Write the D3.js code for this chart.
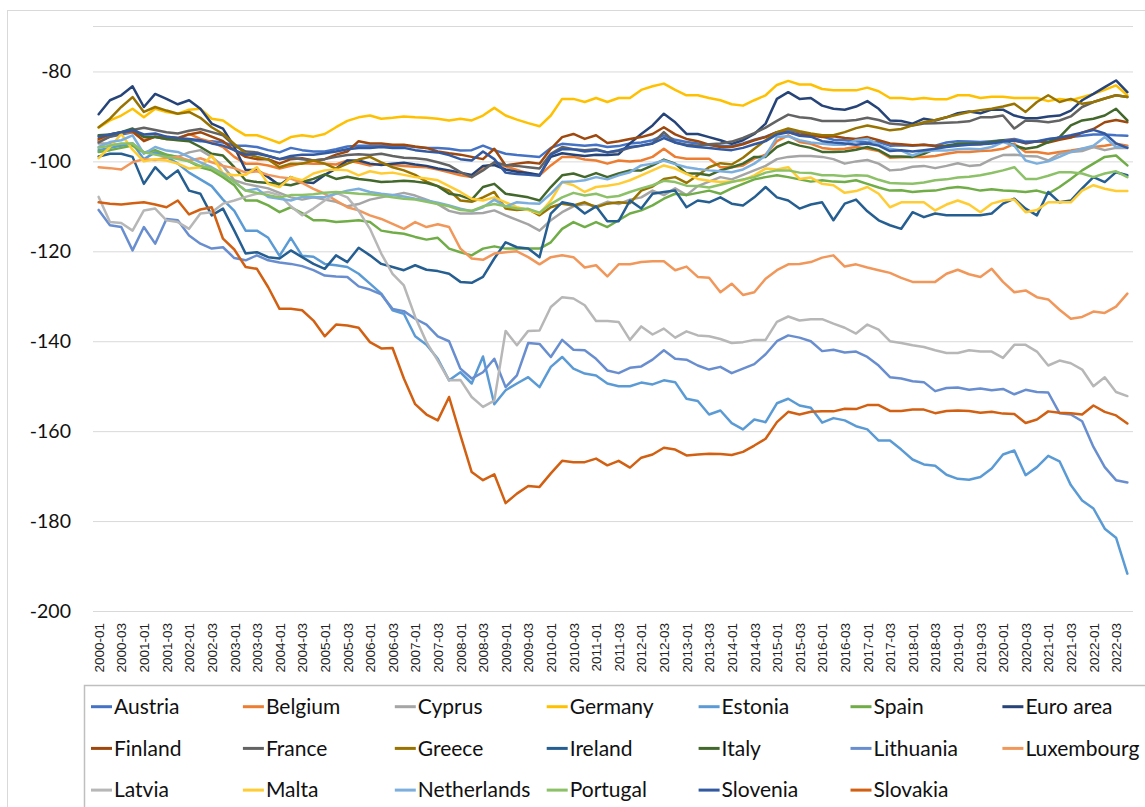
<!DOCTYPE html>
<html><head><meta charset="utf-8">
<script src="https://cdn.jsdelivr.net/npm/d3@7"></script>
<style>body{margin:0;background:#fff;} svg{display:block;}</style>
</head><body><svg id="c" width="1145" height="807"></svg>
<script>
// ---------- categories & tick labels ----------
const years = ["2000","2001","2002","2003","2004","2005","2006","2007","2008","2009","2010","2011","2012","2013","2014","2015","2016","2017","2018","2019","2020","2021","2022"];
const quarters = ["01","02","03","04"];
const categories = [];
years.forEach(yy => quarters.forEach(q => categories.push(yy + "-" + q)));

const tickLabels = ["2000-01","2000-03","2001-01","2001-03","2002-01","2002-03","2003-01","2003-03","2004-01","2004-03","2005-01","2005-03","2006-01","2006-03","2007-01","2007-03","2008-01","2008-03","2009-01","2009-03","2010-01","2010-03","2011-01","2011-03","2012-01","2012-03","2013-01","2013-03","2014-01","2014-03","2015-01","2015-03","2016-01","2016-03","2017-01","2017-03","2018-01","2018-03","2019-01","2019-03","2020-01","2020-03","2021-01","2021-03","2022-01","2022-03"];
const yTickValues = [-200,-180,-160,-140,-120,-100,-80];

// ---------- series ----------
const seriesNames = ["Austria","Belgium","Cyprus","Germany","Estonia","Spain","Euro area","Finland","France","Greece","Ireland","Italy","Lithuania","Luxembourg","Latvia","Malta","Netherlands","Portugal","Slovenia","Slovakia"];
const seriesColors = ["#4472C4","#ED7D31","#A5A5A5","#FFC000","#5B9BD5","#70AD47","#264478","#9E480E","#636363","#997300","#255E91","#43682B","#698ED0","#F1975A","#B7B7B7","#FFCD33","#7CAFDD","#8CC168","#335AA1","#D26012"];

const austria = [-95.5,-94.5,-94,-93.5,-94.5,-94.5,-95,-95,-95.2,-95.5,-95.5,-95.8,-96.5,-96.5,-96.8,-97.5,-98,-97,-97.5,-97.8,-97.8,-97.3,-96.7,-96.5,-96.5,-96.5,-96.7,-96.5,-96.8,-97,-97,-97.2,-97.6,-97.5,-96.5,-97.5,-98.3,-98.6,-98.8,-99,-97,-96.1,-96.3,-96.5,-96.3,-96.8,-96.6,-96,-95.8,-95.3,-94.2,-95.2,-95.7,-96,-96.3,-96.5,-96.6,-96,-95.2,-94.5,-93.5,-93,-93.5,-94,-94.5,-95.2,-95.3,-95.5,-95.8,-95.7,-96.5,-96.4,-96.5,-96.3,-96.5,-95.8,-95.5,-95.6,-95.7,-95.5,-95.3,-95,-95.6,-95.5,-95,-94.8,-94.6,-94.3,-94,-94,-94.2,-94.3];
const belgium = [-95.3,-94.2,-93.5,-93.5,-95.3,-94.5,-95,-95,-93.9,-95,-95.7,-96.8,-99,-100.5,-100.5,-100.9,-101.6,-101,-100.4,-100.5,-100.5,-100.7,-99.8,-100.3,-100.9,-100.5,-100.8,-101,-101.2,-101.3,-101.8,-102.4,-103.1,-103.5,-101.3,-100.5,-101.1,-101.9,-102.7,-103.1,-100.9,-99,-99,-99.6,-99.8,-100.5,-99.8,-100,-99.8,-99,-97.2,-99,-99.4,-99.4,-99.4,-101.3,-101.3,-100.9,-99.4,-98.5,-95.5,-94.2,-95.7,-96.1,-97,-97.3,-97.2,-96.8,-97.2,-97.7,-99.2,-99.1,-99,-99,-98.8,-98.3,-97.9,-97.9,-97.7,-97.6,-97.2,-96.1,-97.9,-97.9,-98.3,-97.9,-97.6,-97.2,-96.8,-96.5,-96.1,-96.5];
const cyprus = [-96,-96,-96.5,-96,-98,-98,-98.5,-99,-98,-97.5,-99,-101,-104.2,-105,-105.5,-106,-107,-108,-108.5,-108,-108.5,-109,-110,-109.5,-108.5,-108,-107.5,-107,-107.6,-108.5,-109.5,-111,-111.6,-111.6,-111.5,-110.9,-112,-113,-114,-115.4,-113.1,-111.3,-110,-109.5,-110,-109,-109.5,-108.5,-108,-106.5,-107.5,-106,-107.5,-105.5,-104.5,-103.5,-104,-103,-102,-101,-99.5,-99,-98.8,-98.8,-99,-99.5,-100.5,-100,-99.7,-100.5,-102,-101.8,-101.2,-101,-101.5,-101,-100.4,-101,-100.8,-99.5,-98.6,-98.5,-98.8,-98.9,-99.8,-98.3,-97.9,-97.7,-96.8,-97.5,-97,-97];
const germany = [-92.5,-90.9,-89.8,-88.3,-90.2,-88.3,-89,-89.4,-88.5,-88.3,-90.5,-90.9,-92.7,-94.2,-94.2,-95,-95.9,-94.6,-94.2,-94.5,-93.9,-92.4,-91,-90.2,-89.8,-90.5,-90.3,-90,-90.2,-90.3,-90.5,-90.9,-90.5,-90.9,-89.8,-88.1,-89.8,-90.7,-91.5,-92.2,-89.8,-86.1,-86.1,-86.8,-85.9,-86.8,-85.9,-85.9,-84.1,-83.3,-82.7,-84.1,-85.3,-85.3,-85.9,-86.4,-87.3,-87.6,-86.4,-85.3,-83,-82.1,-82.9,-82.9,-83.9,-84.2,-84.2,-84.2,-83.6,-84.4,-85.9,-85.9,-86.2,-85.9,-86.2,-86.2,-85.3,-85.3,-85.9,-85.6,-85.6,-85.9,-85.9,-85.9,-86.6,-86.1,-86.4,-85.7,-85,-84.1,-83.1,-85.3];
const estonia = [-97.5,-97,-96.5,-96,-99.5,-98,-99,-100.5,-102.5,-104,-105.5,-108.5,-111,-115.4,-115.4,-117,-121,-117,-121,-121.2,-122.8,-123.1,-123.5,-125,-127.2,-129.4,-133.1,-133.9,-138.9,-140.8,-143.9,-148.7,-146.9,-149.4,-143.4,-154,-150.9,-149.4,-148,-150.2,-145.7,-143.5,-146.1,-147.2,-147.6,-149.4,-150,-150,-149.2,-149.6,-148.7,-149.1,-152.8,-153.3,-156.3,-155.4,-158.2,-159.6,-157.4,-158,-153.8,-152.8,-154.3,-154.8,-158.1,-157.1,-157.6,-158.9,-159.6,-162.1,-162.1,-164.1,-166.3,-167.4,-167.7,-169.7,-170.6,-170.8,-170.2,-168.3,-165.2,-164.3,-169.8,-168,-165.5,-166.7,-172,-175.4,-177.2,-181.7,-183.7,-191.7];
const spain = [-97.9,-97.5,-97,-96.5,-98,-97.5,-98.5,-99,-100,-101.3,-102,-103.5,-105.3,-108.7,-108.7,-109.8,-111.3,-110.2,-111.5,-113.1,-113.1,-113.5,-113.3,-113.1,-113.5,-115.4,-115.8,-116.1,-116.8,-117.4,-117,-119.4,-120.2,-120.9,-119.4,-118.9,-119.4,-119.4,-119.4,-119.4,-118,-115,-113.5,-114.6,-113.5,-114.6,-113.1,-111.6,-110.9,-109.8,-108.3,-107.2,-107.5,-107,-106.5,-107.2,-106,-105,-104,-103.5,-103.1,-103.5,-104,-104.5,-104.2,-104.5,-104.6,-104.2,-105,-105.8,-106.5,-106.4,-106.8,-106.6,-106.5,-106,-105.7,-106,-106.5,-106.2,-106.5,-106.6,-106.8,-106.5,-107.2,-105.7,-103.9,-102,-100.5,-99,-98.7,-100.9];
const euroArea = [-89.5,-86.4,-85.3,-83.3,-87.9,-85,-86.1,-87.3,-86.4,-88.3,-91.6,-92.7,-96.8,-101.9,-101.9,-103.5,-105.3,-103.5,-104.6,-104.8,-103,-101.6,-99.8,-99.8,-100.5,-100.8,-100.5,-100.3,-100.7,-101,-101.6,-102,-102.5,-103,-101,-100.8,-101.8,-102.3,-102.6,-103,-99,-98.2,-98.5,-98.8,-98.5,-98.6,-98.4,-96,-93.9,-92,-89.4,-91.3,-93.9,-93.9,-94.6,-95.3,-96.1,-95.3,-93.9,-91.6,-86.1,-84.6,-86.1,-85.9,-87.6,-88.3,-88.5,-87.8,-86.6,-88.3,-90.9,-91,-91.6,-90.5,-90.9,-90.2,-89.3,-88.9,-89.3,-88.5,-88.5,-89.8,-90.4,-90.4,-90,-89.8,-88.7,-86.4,-85,-83.5,-82,-84.6];
const finland = [-95,-94,-93.5,-93.3,-95.5,-94.5,-94.5,-94.8,-94,-93.5,-94.5,-95.5,-97.5,-99,-99.5,-99.5,-100.5,-99.5,-99.3,-99.8,-99.5,-98.5,-97.8,-95.5,-96,-96,-96.3,-96.3,-96.7,-97,-97.8,-98.2,-98.5,-99,-99.5,-97.2,-100.9,-100.5,-100.2,-100.5,-97.2,-94.6,-93.9,-95,-94.2,-95.9,-95.5,-95,-94.6,-93.9,-92.4,-94,-95,-95.5,-96.3,-96.8,-96.8,-96.2,-95.3,-94.6,-93.5,-93.5,-94,-94.2,-94.6,-94.4,-94.8,-95,-94.6,-95.3,-96,-96.2,-96.4,-96.3,-96.6,-96.5,-96.3,-96.2,-96.2,-95.8,-95.5,-95.3,-96,-95.5,-95.8,-95.2,-94.7,-93.6,-92.8,-91.3,-90.8,-91.3];
const france = [-95.8,-94.5,-93.8,-93,-92.5,-93,-93.5,-93.8,-93.2,-92.8,-93.5,-94.2,-96.5,-97.8,-98,-98.8,-99.5,-99.2,-99.5,-99.8,-99.5,-99,-98.6,-98.4,-98.6,-98.3,-98.8,-99.2,-99.3,-99.6,-100.2,-100.9,-102.4,-103.5,-102,-100.2,-100.8,-101,-101.3,-101.6,-98.3,-96.8,-97.3,-97.5,-97.3,-98,-97.7,-97,-96.5,-96,-93.5,-95.8,-96.3,-96.5,-96.2,-96,-95.6,-94.8,-93.7,-92.5,-91,-89.6,-90.2,-90.4,-91,-91,-91,-90.8,-90.3,-90.8,-91.6,-91.8,-92,-91.6,-91.5,-91.4,-91.3,-91.1,-90.2,-90.2,-89.8,-92.7,-90.9,-91,-91.3,-90.9,-90,-87.9,-86.8,-86,-85.3,-85.7];
const greece = [-92.4,-90.5,-87.9,-85.7,-89,-87.9,-88.7,-89.4,-89,-90.3,-92.4,-93.9,-96.1,-98.3,-99,-99.6,-101.3,-100.5,-100.5,-99.8,-100.5,-101.6,-100.5,-99.6,-99,-100.2,-101.3,-102,-103,-104.5,-105.5,-106.5,-108.7,-109,-108,-106.8,-110.5,-110.8,-110.6,-112,-110.2,-109.4,-109.8,-109.1,-110.2,-109.4,-109.1,-109.3,-106.5,-105.6,-103.9,-103.5,-104.8,-103.1,-101.3,-100.4,-100.7,-99.2,-97.2,-95.3,-93.5,-92.7,-93.3,-93.8,-94.2,-94.2,-93.5,-92.6,-92,-92.5,-93.1,-92.8,-92,-91.3,-90.8,-90.2,-89.6,-89,-88.6,-88.3,-87.8,-87.2,-89,-86.8,-85.3,-86.8,-86.1,-87.2,-86.8,-86,-85.3,-85.7];
const ireland = [-98.9,-98.3,-98.3,-99,-105,-101.3,-103.9,-102,-106.5,-107.2,-112,-110.5,-115.4,-120.5,-120.2,-121.3,-121.6,-119.8,-121.3,-122.8,-123.9,-120.9,-122.4,-119.2,-120.9,-122.8,-123.5,-124.2,-123.1,-124.1,-124.4,-125,-126.8,-127,-125.7,-121.6,-118,-119.1,-119.4,-121.3,-111.6,-109.1,-109.6,-111.6,-110,-113.3,-113.3,-108.7,-110.5,-107.2,-106.8,-106.5,-110.2,-108.7,-109.1,-108,-109.4,-109.8,-108,-105.7,-108,-108.7,-110.5,-109.6,-109.1,-113.1,-109.4,-108.5,-111.1,-113.1,-114.2,-115,-111.3,-112.4,-111.6,-112,-112,-112,-112,-111.6,-109.4,-108.3,-110.5,-112,-106.8,-109.1,-108.7,-106,-103.5,-104.6,-102.4,-103.1];
const italy = [-94.2,-94,-93.5,-92.7,-94.6,-94.6,-95,-95.3,-95.5,-96.8,-98.3,-98.7,-101.3,-104.2,-104.6,-104.8,-105,-105.3,-104.6,-103.9,-102.9,-103.9,-103.4,-103.9,-104.2,-104.6,-104.5,-104.3,-104.5,-104.8,-105.5,-107.2,-107.6,-108.5,-105.7,-105,-107.2,-107.6,-108,-108.7,-105.7,-103.1,-102.7,-103.5,-102.6,-103.5,-102.7,-102,-102,-100.9,-99.6,-100.5,-102.7,-102.7,-103.1,-102,-101.3,-100.5,-99,-99,-96.8,-95.7,-96.5,-97,-97.9,-97.9,-97.8,-97.4,-96.8,-97.5,-98.9,-98.9,-99,-98.3,-97.2,-96.5,-96.1,-96,-96,-95.7,-95.3,-96.5,-97.2,-96.8,-95.7,-94.6,-92,-90.9,-90.5,-89.8,-88.3,-90.9];
const lithuania = [-110.8,-114.2,-114.6,-119.8,-114.6,-118.3,-112.8,-113.1,-116.5,-118.3,-119.4,-119.1,-121.5,-122,-120.9,-122,-122.5,-122.8,-123.3,-124.2,-125.4,-125.6,-125.7,-127.8,-128.5,-129.6,-132.8,-133.3,-135,-136.3,-138.9,-140,-146.1,-148.3,-146.9,-143.9,-150.2,-147.6,-140.4,-140.6,-143.5,-139.7,-141.9,-142,-143.9,-146.5,-147.1,-145.9,-145.6,-144.1,-142,-143.9,-144.1,-145.4,-146.3,-145.7,-147.1,-146.1,-145.1,-142.9,-140,-138.7,-139.2,-140,-142.2,-141.9,-142.5,-142.3,-143.5,-145.4,-148,-148.3,-148.9,-149.1,-151.1,-150.4,-150.3,-150.8,-150.5,-150.9,-150.6,-151.8,-150.8,-151.3,-151.4,-156,-156.3,-157.8,-163.5,-168,-170.9,-171.4];
const luxembourg = [-101.3,-101.5,-101.8,-100.2,-99.5,-99.7,-99.2,-99,-99.8,-99.3,-100.2,-101,-101.5,-102.5,-102.2,-103,-103.5,-103.8,-104.8,-106.1,-107.2,-108.7,-110.2,-110.9,-112,-112.8,-113.9,-115,-113.5,-114.6,-114,-114.6,-119.4,-121.6,-121.9,-120.5,-120.2,-120,-121.3,-122.9,-121.3,-120.9,-121.3,-123.6,-123.1,-125.6,-122.9,-122.9,-122.4,-122.2,-122.2,-124.2,-123.4,-125.7,-125.9,-129.1,-127.2,-129.7,-129.1,-126.1,-124.2,-122.9,-122.8,-122.4,-121.4,-120.9,-123.4,-122.9,-123.6,-124.2,-124.8,-125.9,-126.8,-126.8,-126.8,-125,-124.1,-125.1,-125.7,-123.9,-126.8,-129.1,-128.7,-130.2,-130.7,-133,-135,-134.6,-133.4,-133.7,-132.3,-129.4];
const latvia = [-107.9,-113.5,-113.7,-115.4,-110.9,-110.5,-113.1,-113.5,-115,-111.6,-111.3,-109.4,-108.7,-107.9,-107.2,-106.8,-107.5,-110,-112,-110.5,-108.7,-107,-108,-111,-115,-120.5,-125,-127.6,-134.6,-140.2,-144.3,-148.7,-148.6,-152.4,-154.6,-153.2,-137.7,-140.9,-137.7,-137.6,-132.4,-130.2,-130.5,-132,-135.5,-135.5,-135.7,-139.7,-136.7,-138.5,-137.2,-139.2,-137.8,-138.7,-138.9,-139.5,-140.4,-140.2,-139.7,-139.7,-135.7,-134.5,-135.4,-135.1,-135.1,-136.1,-137,-138.3,-136.3,-137.4,-140,-140.4,-140.9,-141.3,-142,-142.6,-142.6,-142,-142.3,-142.3,-143.7,-140.8,-140.8,-142.3,-145.4,-144.3,-144.9,-146.3,-150,-148,-151.3,-152.2];
const malta = [-99.3,-96.8,-93.9,-97.4,-100,-99.5,-99.8,-100.5,-101.6,-101.3,-98.7,-102.7,-103.1,-103,-101.3,-105,-105.7,-103.5,-104.2,-102.7,-102,-101.8,-102,-103.1,-102.2,-102.7,-102.5,-103,-103.5,-103.8,-104.2,-105.5,-106.8,-108.3,-108.7,-108,-109.1,-110.2,-110.8,-111.6,-108.7,-104.6,-105.3,-106.8,-105.7,-105.4,-105,-104.2,-103.1,-102,-100.9,-101.6,-102.8,-103.9,-104.3,-104.6,-104.5,-104.2,-103.1,-101.6,-101.8,-101.3,-103.9,-103.6,-105,-105.3,-107,-106.6,-105.7,-107.2,-110.2,-109.1,-109.1,-109.1,-110.9,-109.6,-108.7,-109.6,-111.3,-109.4,-108.7,-108.5,-111.3,-110.8,-109.1,-109.1,-109.1,-106.5,-105.3,-106.1,-106.6,-106.6];
const netherlands = [-96.8,-95.7,-95.3,-94.2,-98.3,-96.8,-97.6,-97.9,-99,-100.2,-101.3,-102.7,-104.6,-106.5,-106.1,-107.9,-108.3,-108.7,-107.9,-108,-107.9,-107.2,-106.5,-106.1,-106.8,-107.2,-107.5,-107.8,-108.3,-108.7,-109.2,-109.8,-110.5,-111.1,-110.2,-108.5,-110,-109.1,-109.3,-109.4,-107.2,-104.6,-104.5,-104.2,-103.5,-104,-103.1,-102.4,-100.9,-100.5,-99.8,-100.6,-101.3,-101.7,-102,-102.2,-102.4,-101.8,-100.5,-98.7,-94.6,-94.4,-95.3,-95.8,-96.1,-96.3,-96.3,-95.3,-95,-96.2,-97.2,-97.6,-98.7,-97.8,-97.6,-97.6,-97.3,-97.2,-97.3,-96.8,-95.7,-96.5,-99.8,-100.5,-100,-99,-97.9,-97.2,-96.5,-94.6,-96.8,-96.8];
const portugal = [-97,-96.5,-96,-96,-98,-98.5,-99,-99.5,-100,-101,-101.5,-103,-104.5,-106.5,-107,-107.5,-108,-107.5,-107.5,-107.3,-107,-106.8,-107,-107.2,-107.3,-107.6,-108,-108.3,-108.5,-109,-109.5,-110,-110.8,-111,-110,-109.5,-110,-110.5,-110.6,-111.4,-109.5,-108,-107,-107.6,-107.2,-108,-107.7,-106.8,-106,-105.3,-104.3,-104.6,-105.4,-105.5,-105.8,-105.2,-104.6,-104,-103.5,-102.5,-102,-102,-102.5,-102.6,-103.1,-103.1,-103.3,-103.1,-103.2,-104.1,-104.8,-104.9,-105,-104.7,-104.2,-104,-103.6,-103.4,-103.1,-102.6,-102,-101.3,-103.9,-103.9,-103.2,-102.4,-102.4,-102.7,-103.5,-102.7,-102.2,-103.5];
const slovenia = [-94.5,-94,-93.5,-93,-94,-93.8,-94.5,-94.8,-95,-95.3,-96,-96.5,-97.5,-98.5,-98.3,-98.8,-99.5,-98.8,-98.5,-98.5,-98.2,-97.8,-97.3,-97,-97,-96.8,-97,-97,-97.5,-97.8,-98,-98.6,-99.5,-99.8,-97.8,-99.5,-102.5,-102.8,-103,-103.2,-98.5,-97.3,-97.3,-97.8,-97.5,-98,-97.5,-96.8,-96.5,-96,-94.8,-95.8,-96.5,-96.8,-97,-97.3,-97.5,-97,-96.2,-95.5,-94,-93.5,-94.3,-94.5,-95.5,-95.8,-96,-96.3,-96,-96.5,-97.7,-97.5,-97.8,-97.5,-97.2,-96.8,-96.5,-96.3,-96.2,-96,-95.6,-95.4,-95.8,-95.6,-95.1,-94.7,-94.2,-93.6,-93,-93.8,-96,-97];
const slovakia = [-109.1,-109.4,-109.6,-109.3,-109.1,-109.6,-110.2,-108.7,-111.8,-110.7,-110.2,-117.2,-119.6,-123.5,-123.9,-128,-132.8,-132.8,-133.1,-135.4,-138.9,-136.3,-136.5,-137,-140.2,-141.6,-141.5,-148.3,-154,-156.3,-157.6,-152.4,-160.9,-169.1,-170.9,-169.6,-176,-173.9,-172.2,-172.4,-169.4,-166.6,-166.9,-166.9,-166.1,-167.6,-166.6,-168.1,-165.9,-165.2,-163.7,-164.1,-165.4,-165.2,-165,-165.1,-165.3,-164.6,-163.2,-161.7,-158,-155.7,-156.3,-155.7,-155.6,-155.6,-155,-155.1,-154.2,-154.2,-155.5,-155.5,-155.2,-155.2,-156,-155.5,-155.4,-155.5,-155.9,-155.7,-156.1,-156.2,-158.2,-157.4,-155.6,-155.9,-156,-156.3,-154.3,-155.7,-156.5,-158.3];

const seriesValues = [austria,belgium,cyprus,germany,estonia,spain,euroArea,finland,france,greece,ireland,italy,lithuania,luxembourg,latvia,malta,netherlands,portugal,slovenia,slovakia];

// ---------- drawing ----------
const svg = d3.select("#c");
const W = 1145, H = 807;
const plot = {left: 93, right: 1133, top: 26.5, bottom: 611};

svg.append("rect").attr("x", 7.5).attr("y", 10.5).attr("width", 1160).attr("height", 820)
  .attr("fill", "#fff").attr("stroke", "#d9d9d9").attr("stroke-width", 1);

const x = d3.scalePoint().domain(categories).range([plot.left, plot.right]).padding(0.5);
const y = d3.scaleLinear().domain([-200, -70]).range([plot.bottom, plot.top]);

// top boundary line
svg.append("line").attr("x1", plot.left).attr("x2", plot.right)
  .attr("y1", y(-70)).attr("y2", y(-70)).attr("stroke", "#d9d9d9").attr("stroke-width", 1);

const yAxis = svg.append("g").attr("transform", `translate(${plot.left},0)`)
  .call(d3.axisLeft(y).tickValues(yTickValues).tickSize(-(plot.right - plot.left)).tickPadding(22).tickFormat(d => String(d)));
yAxis.select(".domain").remove();
yAxis.selectAll(".tick line").attr("stroke", "#d9d9d9").attr("stroke-width", 1);
yAxis.selectAll(".tick text").attr("fill", "#111").style("font-family", "Lato, 'Open Sans', sans-serif").style("font-size", "19.5px");

const xAxis = svg.append("g").attr("transform", `translate(0,${plot.bottom})`)
  .call(d3.axisBottom(x).tickValues(tickLabels).tickSize(0));
xAxis.select(".domain").remove();
xAxis.selectAll(".tick text")
  .attr("transform", "rotate(-90)").attr("x", -12).attr("y", 0).attr("dy", "0.35em")
  .style("text-anchor", "end").attr("fill", "#222")
  .style("font-family", "'Liberation Sans', Arial, sans-serif").style("font-size", "13.5px");

const line = d3.line().x((d, i) => x(categories[i])).y(d => y(d));
const g = svg.append("g");
seriesValues.forEach((vals, k) => {
  g.append("path").datum(vals).attr("d", line).attr("fill", "none")
    .attr("stroke", seriesColors[k]).attr("stroke-width", 2.5)
    .attr("stroke-linejoin", "round").attr("stroke-linecap", "round");
});

// legend
const lg = svg.append("g");
lg.append("rect").attr("x", 84.5).attr("y", 685.5).attr("width", 1100).attr("height", 200)
  .attr("fill", "#fff").attr("stroke", "#bfbfbf").attr("stroke-width", 1.5);
seriesNames.forEach((name, k) => {
  const c = k % 7, r = Math.floor(k / 7);
  const tx = 114 + 151.9 * c, ty = 706.7 + 41.7 * r;
  lg.append("line").attr("x1", tx - 23).attr("x2", tx - 2).attr("y1", ty).attr("y2", ty)
    .attr("stroke", seriesColors[k]).attr("stroke-width", 3);
  lg.append("text").attr("x", tx).attr("y", ty).attr("dy", "0.35em").text(name)
    .attr("fill", "#111").style("font-family", "Lato, 'Open Sans', sans-serif").style("font-size", "21px");
});
</script></body></html>
